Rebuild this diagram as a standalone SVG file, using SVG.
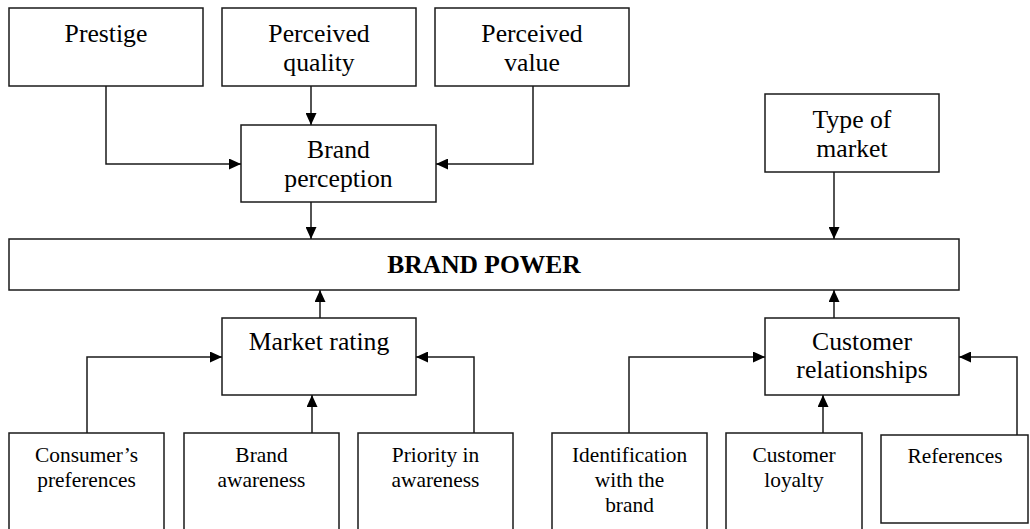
<svg xmlns="http://www.w3.org/2000/svg" width="1030" height="529" viewBox="0 0 1030 529">
<style>
  .box { fill: #ffffff; stroke: #1a1a1a; stroke-width: 1.5; }
  .conn { fill: none; stroke: #1a1a1a; stroke-width: 1.5; }
  .t { font-family: "Liberation Serif", "Times New Roman", serif; font-size: 25.7px; fill: #000; text-anchor: middle; }
  .s { font-family: "Liberation Serif", "Times New Roman", serif; font-size: 21.4px; fill: #000; text-anchor: middle; }
  .b { font-family: "Liberation Serif", "Times New Roman", serif; font-size: 25.5px; font-weight: bold; fill: #000; text-anchor: middle; }
</style>
<defs>
  <marker id="arrow" viewBox="0 0 12 11" refX="12" refY="5.5" markerWidth="12" markerHeight="11" markerUnits="userSpaceOnUse" orient="auto">
    <path d="M0,0 L12,5.5 L0,11 Z" fill="#000"/>
  </marker>
</defs>
<rect width="1030" height="529" fill="#ffffff"/>

<g id="prestige">
  <rect class="box" x="9" y="8" width="194" height="78"/>
  <text class="t" x="106" y="42">Prestige</text>
</g>
<g id="perceived-quality">
  <rect class="box" x="222" y="8" width="194" height="78"/>
  <text class="t" x="319" y="42">Perceived</text>
  <text class="t" x="319" y="71">quality</text>
</g>
<g id="perceived-value">
  <rect class="box" x="435" y="8" width="194" height="78"/>
  <text class="t" x="532" y="42">Perceived</text>
  <text class="t" x="532" y="71">value</text>
</g>
<g id="brand-perception">
  <rect class="box" x="241" y="125" width="195" height="77"/>
  <text class="t" x="338.5" y="158">Brand</text>
  <text class="t" x="338.5" y="187">perception</text>
</g>
<g id="type-of-market">
  <rect class="box" x="765" y="94" width="174" height="78"/>
  <text class="t" x="852" y="128">Type of</text>
  <text class="t" x="852" y="157">market</text>
</g>
<g id="brand-power">
  <rect class="box" x="9" y="239" width="950" height="51"/>
  <text class="b" x="484" y="273">BRAND POWER</text>
</g>
<g id="market-rating">
  <rect class="box" x="222" y="318" width="194" height="77"/>
  <text class="t" x="319" y="350">Market rating</text>
</g>
<g id="customer-relationships">
  <rect class="box" x="765" y="318" width="194" height="77"/>
  <text class="t" x="862" y="350">Customer</text>
  <text class="t" x="862" y="378">relationships</text>
</g>
<g id="consumers-preferences">
  <rect class="box" x="9" y="433" width="155" height="110"/>
  <text class="s" x="86.5" y="462">Consumer’s</text>
  <text class="s" x="86.5" y="487">preferences</text>
</g>
<g id="brand-awareness">
  <rect class="box" x="184" y="433" width="155" height="110"/>
  <text class="s" x="261.5" y="462">Brand</text>
  <text class="s" x="261.5" y="487">awareness</text>
</g>
<g id="priority-in-awareness">
  <rect class="box" x="358" y="433" width="155" height="110"/>
  <text class="s" x="435.5" y="462">Priority in</text>
  <text class="s" x="435.5" y="487">awareness</text>
</g>
<g id="identification">
  <rect class="box" x="552" y="433" width="155" height="110"/>
  <text class="s" x="629.5" y="462">Identification</text>
  <text class="s" x="629.5" y="487">with the</text>
  <text class="s" x="629.5" y="512">brand</text>
</g>
<g id="customer-loyalty">
  <rect class="box" x="726" y="433" width="136" height="110"/>
  <text class="s" x="794" y="462">Customer</text>
  <text class="s" x="794" y="487">loyalty</text>
</g>
<g id="references">
  <rect class="box" x="881" y="435" width="147" height="88"/>
  <text class="s" x="955" y="463">References</text>
</g>

<g id="connectors">
  <path class="conn" d="M106,86 V164 H241" marker-end="url(#arrow)"/>
  <path class="conn" d="M311,86 V125" marker-end="url(#arrow)"/>
  <path class="conn" d="M533,86 V164 H436" marker-end="url(#arrow)"/>
  <path class="conn" d="M311,202 V239" marker-end="url(#arrow)"/>
  <path class="conn" d="M834,172 V239" marker-end="url(#arrow)"/>
  <path class="conn" d="M320,318 V290" marker-end="url(#arrow)"/>
  <path class="conn" d="M834,318 V290" marker-end="url(#arrow)"/>
  <path class="conn" d="M87,433 V357 H222" marker-end="url(#arrow)"/>
  <path class="conn" d="M312,433 V395" marker-end="url(#arrow)"/>
  <path class="conn" d="M474,433 V357 H416" marker-end="url(#arrow)"/>
  <path class="conn" d="M629,433 V357 H765" marker-end="url(#arrow)"/>
  <path class="conn" d="M823,433 V395" marker-end="url(#arrow)"/>
  <path class="conn" d="M1017,435 V357 H959" marker-end="url(#arrow)"/>
</g>
</svg>
